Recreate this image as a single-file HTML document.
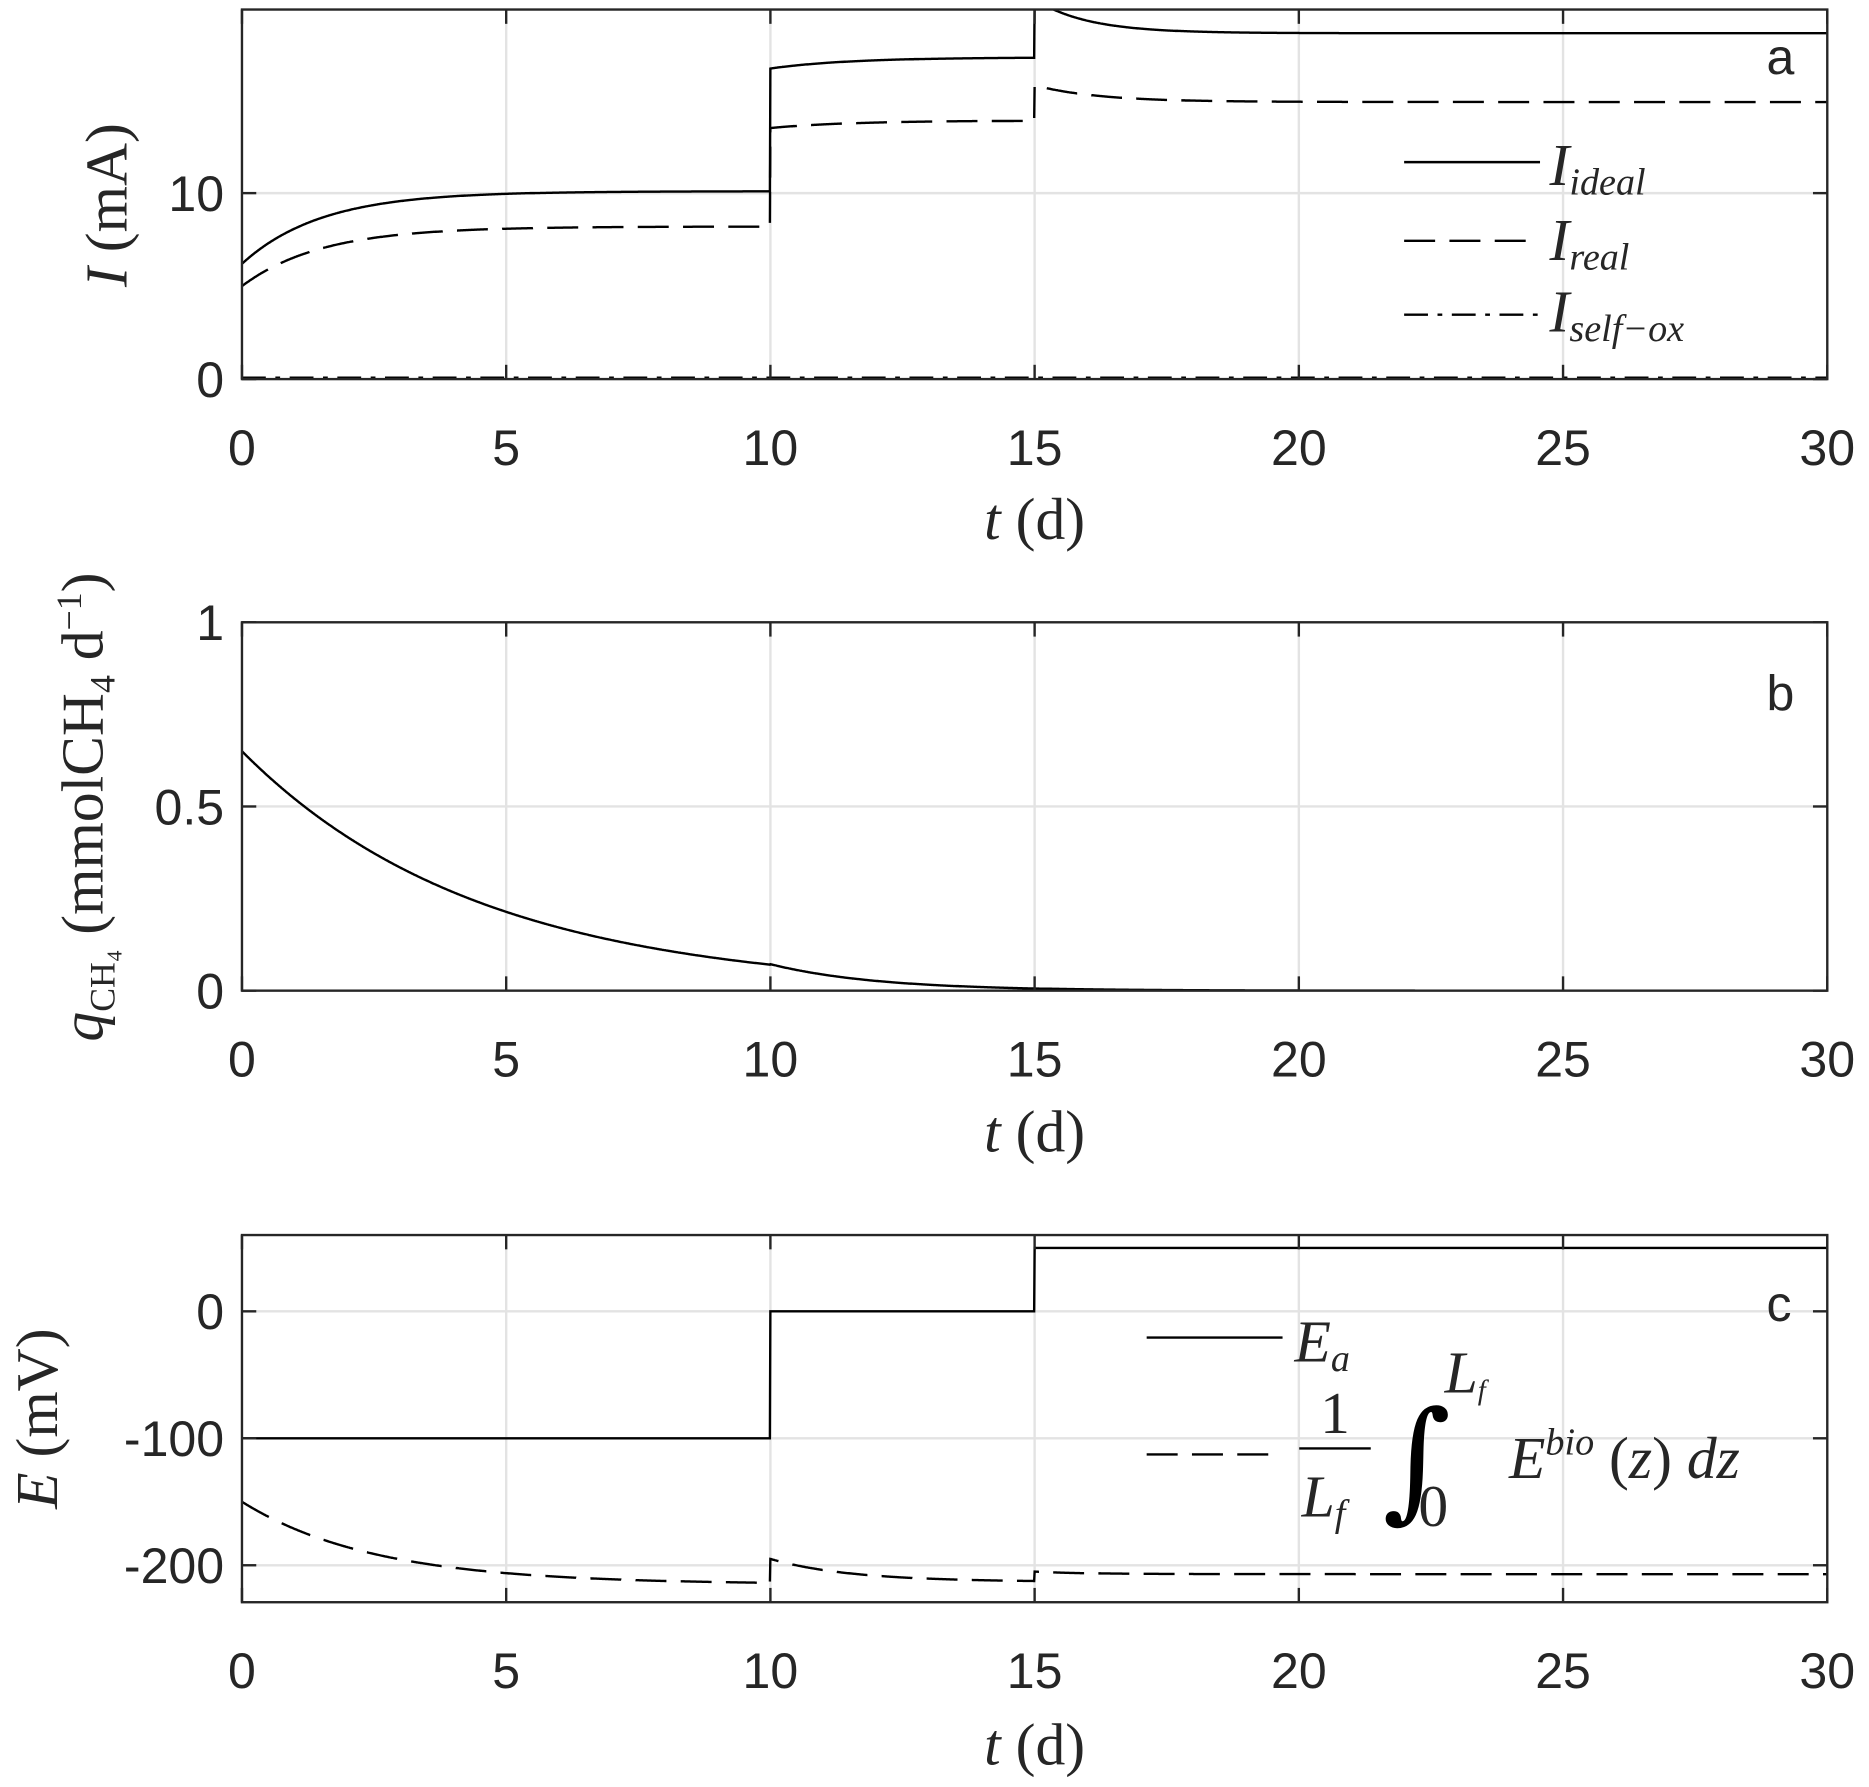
<!DOCTYPE html>
<html><head><meta charset="utf-8"><style>
html,body{margin:0;padding:0;background:#fff}
svg{display:block}
.tk{font-family:"Liberation Sans",sans-serif;font-size:42px;fill:#262626}
.lb{font-family:"Liberation Serif",serif;font-size:50px;fill:#262626}
.it{font-style:italic}
.g{stroke:#e3e3e3;stroke-width:2}
.ax{fill:none;stroke:#262626;stroke-width:2}
.s{fill:none;stroke:#000;stroke-width:2}
</style></head><body>
<svg id="sv" width="1869" height="1787" viewBox="0 0 1568 1499" preserveAspectRatio="none" xmlns="http://www.w3.org/2000/svg">
<defs>
<clipPath id="ca"><rect x="203" y="8" width="1330" height="310"/></clipPath>
<clipPath id="cb"><rect x="203" y="522" width="1330" height="309"/></clipPath>
<clipPath id="cc"><rect x="203" y="1036" width="1330" height="308"/></clipPath>
</defs>
<g id="grid"></g>
<g id="series"></g>
<g id="axes"></g>
<text class="tk" x="1482" y="62">a</text>
<text class="tk" x="1482" y="596">b</text>
<text class="tk" x="1482" y="1108">c</text>
<text class="lb" transform="translate(106,172) rotate(-90)" text-anchor="middle"><tspan class="it">I</tspan> (mA)</text>
<text class="lb" transform="translate(86,677) rotate(-90)" text-anchor="middle"><tspan class="it">q</tspan><tspan font-size="30" dy="10">CH₄</tspan><tspan dy="-10"> (mmolCH</tspan><tspan font-size="30" dy="10">4</tspan><tspan dy="-10"> d</tspan><tspan font-size="30" dy="-18">−1</tspan><tspan dy="18">)</tspan></text>
<text class="lb" transform="translate(48,1190) rotate(-90)" text-anchor="middle"><tspan class="it">E</tspan> (mV)</text>
<text class="lb" x="868" y="452" text-anchor="middle"><tspan class="it">t</tspan>  (d)</text>
<text class="lb" x="868" y="966" text-anchor="middle"><tspan class="it">t</tspan>  (d)</text>
<text class="lb" x="868" y="1480" text-anchor="middle"><tspan class="it">t</tspan>  (d)</text>
<line class="s" x1="1178" y1="136" x2="1292" y2="136"/>
<line class="s" x1="1178" y1="202" x2="1292" y2="202" stroke-dasharray="26,12"/>
<line class="s" x1="1178" y1="264" x2="1292" y2="264" stroke-dasharray="20,8,4,8"/>
<text class="lb it" x="1300" y="155">I<tspan font-size="32" dy="8">ideal</tspan></text>
<text class="lb it" x="1300" y="218">I<tspan font-size="32" dy="8">real</tspan></text>
<text class="lb it" x="1300" y="278">I<tspan font-size="32" dy="8">self−ox</tspan></text>
<line class="s" x1="962" y1="1122" x2="1076" y2="1122"/>
<line class="s" x1="962" y1="1220" x2="1076" y2="1220" stroke-dasharray="26,12"/>
<text class="lb it" x="1086" y="1142">E<tspan font-size="32" dy="8">a</tspan></text>
<text class="lb" x="1120" y="1202" text-anchor="middle">1</text>
<line x1="1090" y1="1215" x2="1150" y2="1215" stroke="#000" stroke-width="2"/>
<text class="lb it" x="1092" y="1272">L<tspan font-size="32" dy="8">f</tspan></text>
<text x="1160" y="1262" font-family="DejaVu Serif" font-size="110" fill="#000">∫</text>
<text class="lb it" x="1212" y="1168" font-size="32">L<tspan font-size="24" dy="6">f</tspan></text>
<text class="lb" x="1190" y="1280" font-size="32">0</text>
<text class="lb" x="1266" y="1240"><tspan class="it">E</tspan><tspan class="it" font-size="32" dy="-20">bio</tspan><tspan dy="20"> (</tspan><tspan class="it">z</tspan>) <tspan class="it">dz</tspan></text>
</svg>
<script>
const NS="http://www.w3.org/2000/svg";
function el(p,tag,a){const e=document.createElementNS(NS,tag);for(const k in a)e.setAttribute(k,a[k]);document.getElementById(p).appendChild(e);return e;}
const X=t=>203+44.333*t;
const panels=[
 {top:8,bot:318,ticks:[[0,"0"],[10,"10"]],Y:v=>318-15.6*v},
 {top:522,bot:831,ticks:[[0,"0"],[0.5,"0.5"],[1,"1"]],Y:v=>831-309*v},
 {top:1036,bot:1344,ticks:[[-200,"-200"],[-100,"-100"],[0,"0"]],Y:v=>1100-1.065*v}
];
panels.forEach(p=>{
 for(let t=5;t<30;t+=5)el("grid","line",{class:"g",x1:X(t),x2:X(t),y1:p.top,y2:p.bot});
 p.ticks.forEach(([v,l])=>{const y=p.Y(v);
  if(y>p.top+1&&y<p.bot-1)el("grid","line",{class:"g",x1:203,x2:1533,y1:y,y2:y});
  el("axes","line",{class:"ax",x1:203,x2:215,y1:y,y2:y});el("axes","line",{class:"ax",x1:1521,x2:1533,y1:y,y2:y});
  const tx=el("axes","text",{class:"tk",x:188,y:y+15,"text-anchor":"end"});tx.textContent=l;});
 el("axes","rect",{class:"ax",x:203,y:p.top,width:1330,height:p.bot-p.top});
 for(let t=0;t<=30;t+=5){el("axes","line",{class:"ax",x1:X(t),x2:X(t),y1:p.bot,y2:p.bot-12});el("axes","line",{class:"ax",x1:X(t),x2:X(t),y1:p.top,y2:p.top+12});
  const tx=el("axes","text",{class:"tk",x:X(t),y:p.bot+72,"text-anchor":"middle"});tx.textContent=t;}
});
function path(f,Y,clip,dash){let d="";for(let i=0;i<=3000;i++){const t=i/100;d+=(i?"L":"M")+X(t).toFixed(1)+" "+Y(f(t)).toFixed(1);}
 const a={class:"s",d:d,"clip-path":"url(#"+clip+")"};if(dash)a["stroke-dasharray"]=dash;el("series","path",a);}
const E=Math.exp;
const A=panels[0].Y,B=panels[1].Y,C=panels[2].Y;
path(t=>t<10?10.1-3.9*E(-t/1.5):t<15?16.7+0.6*(1-E(-(t-10)/1.5)):18.6+1.35*E(-(t-15.3)/1.0),A,"ca");
path(t=>t<10?8.2-3.2*E(-t/1.5):t<15?13.5+0.4*(1-E(-(t-10)/1.5)):14.9+0.9*E(-(t-15)/1.2),A,"ca","26,12");
path(t=>0.08,A,"ca","20,8,4,8");
path(t=>t<10?0.65*E(-t/4.5):0.072*E(-(t-10)/2),B,"cb");
path(t=>t<10?-100:t<15?0:50,C,"cc");
path(t=>t<10?-215+65*E(-t/2.5):t<15?-213+18*E(-(t-10)/1.5):-207+2*E(-(t-15)),C,"cc","26,12");
</script>
</body></html>
